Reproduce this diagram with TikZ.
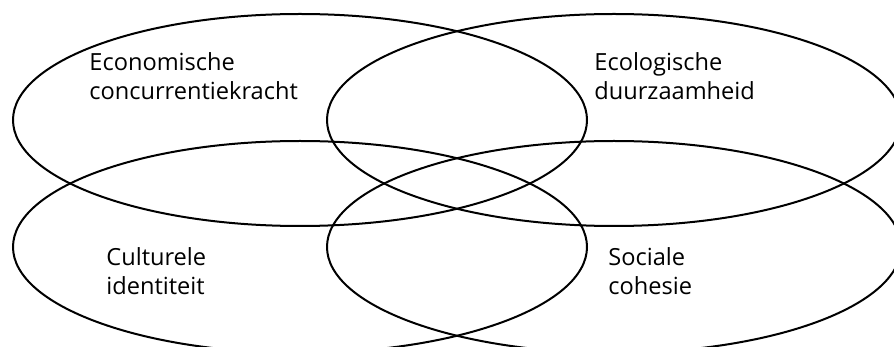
\documentclass[tikz,border=0pt]{standalone}
\usepackage{fontspec}
\setmainfont{Open Sans}
\usetikzlibrary{shapes.geometric,positioning}

\tikzset{
  ring/.style={ellipse, draw, line width=1pt, minimum width=287pt, minimum height=106pt, inner sep=0pt},
  label/.style={align=left, anchor=base west, font=\fontsize{11.8}{14.5}\selectfont, inner sep=0pt}
}

\begin{document}
\begin{tikzpicture}[x=0.5pt, y=-0.5pt]
          \useasboundingbox (0,0) rectangle (894,347);
          \clip (0,0) rectangle (894,347);
          \node[ring] (econring) at (300,120) {};
          \node[ring] (ecoring) at (614,120) {};
          \node[ring] (cultring) at (300,247) {};
          \node[ring] (socring) at (614,247) {};
          % base anchor sits on the last line
          \node[label] (econ) at (89,100) {Economische\\concurrentiekracht};
          \node[label] (eco) at (594,100) {Ecologische\\duurzaamheid};
          \node[label] (cult) at (106,294) {Culturele\\identiteit};
          \node[label] (soc) at (608,294) {Sociale\\cohesie};
        \end{tikzpicture}
\end{document}
